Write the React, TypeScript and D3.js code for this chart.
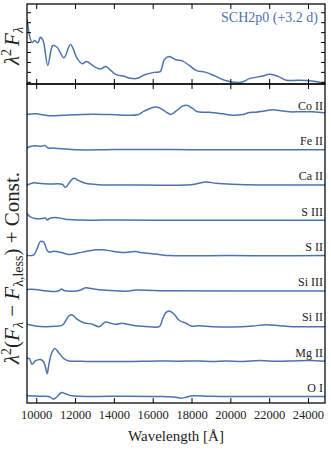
import React, { useEffect, useRef } from "react";
import * as d3 from "d3";

const W = 331;
const H = 450;
const blue = "#4c72b0";
const serif = "\"Liberation Serif\", \"DejaVu Serif\", \"Times New Roman\", serif";

const xTicks = [10000, 12000, 14000, 16000, 18000, 20000, 22000, 24000];
const topYTicks = [0, 1, 2, 3, 4, 5, 6, 7];

// full spectrum, lambda^2 F_lambda (arbitrary units)
const fullSpec: [number, number][] = [
  [9500, 6.37], [9760, 4.03], [9900, 4.2], [10060, 3.97], [10190, 4.53], [10330, 4.2],
  [10570, 1.7], [10830, 3.7], [11050, 3.53], [11400, 2.47], [11740, 3.8], [12090, 2.37],
  [12350, 1.87], [12570, 2.1], [12950, 1.6], [13290, 1.33], [13550, 1.6], [13810, 1.2],
  [14070, 0.8], [14500, 0.6], [14840, 0.4], [15190, 0.4], [15530, 0.73], [16050, 1.0],
  [16360, 1.07], [16570, 2.27], [16820, 2.6], [17170, 2.27], [17520, 2.13], [17860, 1.7],
  [18200, 1.2], [18720, 1.0], [19150, 0.67], [19670, 0.2], [20530, 0.0], [20960, 0.37],
  [21570, 0.6], [22000, 0.8], [22430, 0.6], [22860, 0.2], [23460, 0.2], [24150, 0.13],
  [24850, -0.1],
];

// difference spectra (ion removed), before the constant offset
const coII: [number, number][] = [
  [9500, 0], [9930, 0.07], [10450, -0.07], [10710, -0.13], [11140, -0.1], [12000, -0.03],
  [12860, 0.03], [13720, 0], [14590, -0.07], [15190, -0.03], [15530, 0.33], [16050, 0.73],
  [16310, 0.67], [16650, 0.27], [16910, 0], [17170, 0.33], [17510, 0.83], [17770, 0.9],
  [18030, 0.6], [18290, 0.27], [18890, 0.23], [19580, 0.07], [20100, -0.07], [20620, 0],
  [20960, 0.2], [21300, 0.23], [21650, 0.33], [22170, 0.47], [22510, 0.4], [23030, 0.27],
  [23550, 0.27], [24230, 0.27], [24850, 0.17],
];
const feII: [number, number][] = [
  [9500, 0.17], [9670, 0.33], [9930, 0.4], [10190, 0.33], [10420, 0.43], [10590, 0.17],
  [10790, 0.17], [11310, 0.1], [12000, 0], [13500, 0], [14590, 0.03], [16310, 0.03],
  [18000, 0], [20000, 0], [22000, 0], [24850, 0],
];
const caII: [number, number][] = [
  [9500, 0], [9850, 0.23], [10100, 0.17], [10620, 0.1], [11310, 0.07], [11480, -0.23],
  [11660, 0.17], [11910, 0.67], [12170, 0.43], [12520, 0.17], [13210, 0.03], [14590, 0],
  [17690, 0], [18200, 0.1], [18720, 0.3], [19240, 0.17], [20100, 0.07], [21480, 0], [24850, 0],
];
const sIII: [number, number][] = [
  [9500, 0.67], [9670, 0.33], [9930, 0.17], [10280, 0.17], [10450, 0.23], [10540, 0.03],
  [10660, 0.17], [10970, 0.27], [11310, 0.17], [11660, 0.07], [12860, 0], [14000, 0.03],
  [16000, 0], [24850, 0],
];
const sII: [number, number][] = [
  [9500, 0], [9850, 0.07], [10020, 0.67], [10190, 1.4], [10360, 1.33], [10540, 0.5],
  [10660, 0.33], [10880, 0.43], [11310, 0.27], [11660, 0.1], [12170, 0.27], [12520, 0.4],
  [13030, 0.57], [13380, 0.57], [13900, 0.43], [14410, 0.3], [15100, 0.4], [15450, 0.27],
  [16310, 0.1], [16830, 0], [20000, 0], [22000, -0.03], [24850, 0],
];
const siIII: [number, number][] = [
  [9500, 0.13], [9930, 0.13], [10450, 0], [10970, -0.07], [11140, 0], [11280, 0.17],
  [11400, 0.03], [12000, -0.03], [12260, 0.07], [12520, 0.3], [12860, 0.2], [13380, 0.07],
  [14240, -0.03], [14760, -0.03], [15100, 0.07], [16310, 0], [24850, -0.03],
];
const siII: [number, number][] = [
  [9500, 0.17], [9930, 0], [10450, -0.07], [10970, -0.03], [11310, 0.07], [11400, 0.23],
  [11660, 1.0], [11830, 1.1], [12090, 0.67], [12430, 0.33], [12860, 0.17], [13210, -0.07],
  [13380, 0.17], [13550, 0.4], [13810, 0.27], [14070, 0.17], [14410, 0.27], [14670, 0.17],
  [15100, 0.03], [15790, -0.07], [16310, -0.07], [16480, 0.67], [16650, 1.33], [16830, 1.5],
  [17080, 1.17], [17340, 0.57], [17690, 0.27], [17950, 0], [18380, 0.03], [19070, -0.07],
  [20100, -0.1], [21130, 0], [21820, 0.13], [22510, 0.03], [23200, -0.07], [24060, -0.07],
  [24850, -0.07],
];
const mgII: [number, number][] = [
  [9500, 0.27], [9620, 0.27], [9760, -0.3], [9930, 0.03], [10190, 0.17], [10360, -0.07],
  [10450, -0.57], [10540, -1.23], [10620, -0.4], [10760, 0.77], [10930, 1.27], [11140, 0.83],
  [11400, 0.27], [11660, 0.03], [12170, 0], [12860, -0.03], [14590, -0.03], [16310, 0.03],
  [17170, 0], [18380, 0.03], [19070, -0.03], [19750, 0.03], [20620, -0.03], [21480, 0.07],
  [22340, 0], [23200, 0.03], [24060, 0.07], [24850, 0],
];
const oI: [number, number][] = [
  [9500, 0.07], [10100, 0.03], [10620, 0], [10880, -0.27], [11050, 0], [11280, 0.4],
  [11480, 0.27], [11830, 0.07], [12860, 0], [14590, 0.03], [16310, 0], [17170, -0.07],
  [17430, -0.17], [17690, -0.07], [18030, 0.07], [18890, 0.03], [19750, 0], [24850, 0],
];

const ionNames = ["Co II", "Fe II", "Ca II", "S III", "S II", "Si III", "Si II", "Mg II", "O I"];
const ionSpectra = [coII, feII, caII, sIII, sII, siIII, siII, mgII, oI];
const ionOffsets = [2.8, 2.45, 2.1, 1.75, 1.4, 1.05, 0.7, 0.35, 0];

export default function App() {
  const ref = useRef<SVGSVGElement>(null);

  useEffect(() => {
    const svg = d3.select(ref.current);
    svg.selectAll("*").remove();

    const left = 27, right = 325, top = 4, mid = 84, bottom = 403;

    const x = d3.scaleLinear().domain([9500, 24850]).range([left, right]);
    const yTop = d3.scaleLinear().domain([-0.17, 7.88]).range([mid, top]);
    const yBot = d3.scaleLinear().domain([-0.0645, 3.103]).range([bottom, mid]);

    const defs = svg.append("defs");
    defs.append("clipPath").attr("id", "clipTop")
      .append("rect").attr("x", left).attr("y", top).attr("width", right - left).attr("height", mid - top);
    defs.append("clipPath").attr("id", "clipBot")
      .append("rect").attr("x", left).attr("y", mid).attr("width", right - left).attr("height", bottom - mid);

    // top panel spectrum
    const lineTop = d3.line<[number, number]>()
      .x((d) => x(d[0]))
      .y((d) => yTop(d[1]))
      .curve(d3.curveCatmullRom.alpha(0.5));
    svg.append("path")
      .attr("clip-path", "url(#clipTop)")
      .attr("d", lineTop(fullSpec))
      .attr("fill", "none")
      .attr("stroke", blue)
      .attr("stroke-width", 1.5);

    // bottom panel: offset difference spectra
    ionSpectra.forEach((spec, i) => {
      const off = ionOffsets[i];
      const line = d3.line<[number, number]>()
        .x((d) => x(d[0]))
        .y((d) => yBot(d[1] / 10 + off))
        .curve(d3.curveCatmullRom.alpha(0.5));
      svg.append("path")
        .attr("clip-path", "url(#clipBot)")
        .attr("d", line(spec))
        .attr("fill", "none")
        .attr("stroke", blue)
        .attr("stroke-width", 1.5);
      svg.append("text")
        .attr("x", right - 2)
        .attr("y", yBot(off + 0.045))
        .attr("text-anchor", "end")
        .style("font-family", serif)
        .style("font-size", "12px")
        .attr("fill", "#222")
        .text(ionNames[i]);
    });

    // ticks (inward)
    const tk = svg.append("g").attr("stroke", "#000").attr("stroke-width", 1);
    xTicks.forEach((t) => {
      const px = x(t);
      tk.append("line").attr("x1", px).attr("x2", px).attr("y1", top).attr("y2", top + 5);
      tk.append("line").attr("x1", px).attr("x2", px).attr("y1", mid).attr("y2", mid - 5);
      tk.append("line").attr("x1", px).attr("x2", px).attr("y1", mid).attr("y2", mid + 5);
      tk.append("line").attr("x1", px).attr("x2", px).attr("y1", bottom).attr("y2", bottom - 5);
    });
    topYTicks.forEach((t) => {
      const py = yTop(t);
      tk.append("line").attr("x1", left).attr("x2", left + 4).attr("y1", py).attr("y2", py);
      tk.append("line").attr("x1", right).attr("x2", right - 4).attr("y1", py).attr("y2", py);
    });

    // frames
    [[top, mid], [mid, bottom]].forEach(([a, b]) => {
      svg.append("rect")
        .attr("x", left).attr("y", a)
        .attr("width", right - left).attr("height", b - a)
        .attr("fill", "none").attr("stroke", "#000").attr("stroke-width", 1.25);
    });

    // x tick labels
    svg.append("g").selectAll("text").data(xTicks).enter().append("text")
      .attr("x", (d) => x(d))
      .attr("y", bottom + 16)
      .attr("text-anchor", "middle")
      .style("font-family", serif)
      .style("font-size", "12.5px")
      .attr("fill", "#222")
      .text((d) => String(d));

    // x label
    svg.append("text")
      .attr("x", (left + right) / 2)
      .attr("y", 441)
      .attr("text-anchor", "middle")
      .style("font-family", serif)
      .style("font-size", "15px")
      .attr("fill", "#222")
      .text("Wavelength [Å]");

    // legend text
    svg.append("text")
      .attr("x", 318)
      .attr("y", 22)
      .attr("text-anchor", "end")
      .style("font-family", serif)
      .style("font-size", "14px")
      .attr("fill", blue)
      .text("SCH2p0 (+3.2 d)");

    // y labels (large, as in the original)
    const yl1 = svg.append("text")
      .attr("transform", `translate(19,46) rotate(-90)`)
      .attr("text-anchor", "middle")
      .style("font-family", serif)
      .style("font-size", "21px")
      .attr("fill", "#222");
    yl1.append("tspan").style("font-style", "italic").text("λ");
    yl1.append("tspan").style("font-size", "14px").attr("dy", -8).text("2");
    yl1.append("tspan").style("font-style", "italic").attr("dy", 8).attr("dx", 3).text("F");
    yl1.append("tspan").style("font-style", "italic").style("font-size", "14px").attr("dy", 4).text("λ");

    const yl2 = svg.append("text")
      .attr("transform", `translate(19,268) rotate(-90)`)
      .attr("text-anchor", "middle")
      .style("font-family", serif)
      .style("font-size", "21px")
      .attr("fill", "#222");
    yl2.append("tspan").style("font-style", "italic").text("λ");
    yl2.append("tspan").style("font-size", "14px").attr("dy", -8).text("2");
    yl2.append("tspan").attr("dy", 8).text("(");
    yl2.append("tspan").style("font-style", "italic").text("F");
    yl2.append("tspan").style("font-style", "italic").style("font-size", "14px").attr("dy", 4).text("λ");
    yl2.append("tspan").attr("dy", -4).text(" − ");
    yl2.append("tspan").style("font-style", "italic").text("F");
    yl2.append("tspan").style("font-size", "14px").attr("dy", 4).text("λ,less");
    yl2.append("tspan").attr("dy", -4).text(") + Const.");
  }, []);

  return (
    <svg
      ref={ref}
      width={W}
      height={H}
      style={{ position: "absolute", left: 0, top: 0, background: "#fff" }}
    />
  );
}
